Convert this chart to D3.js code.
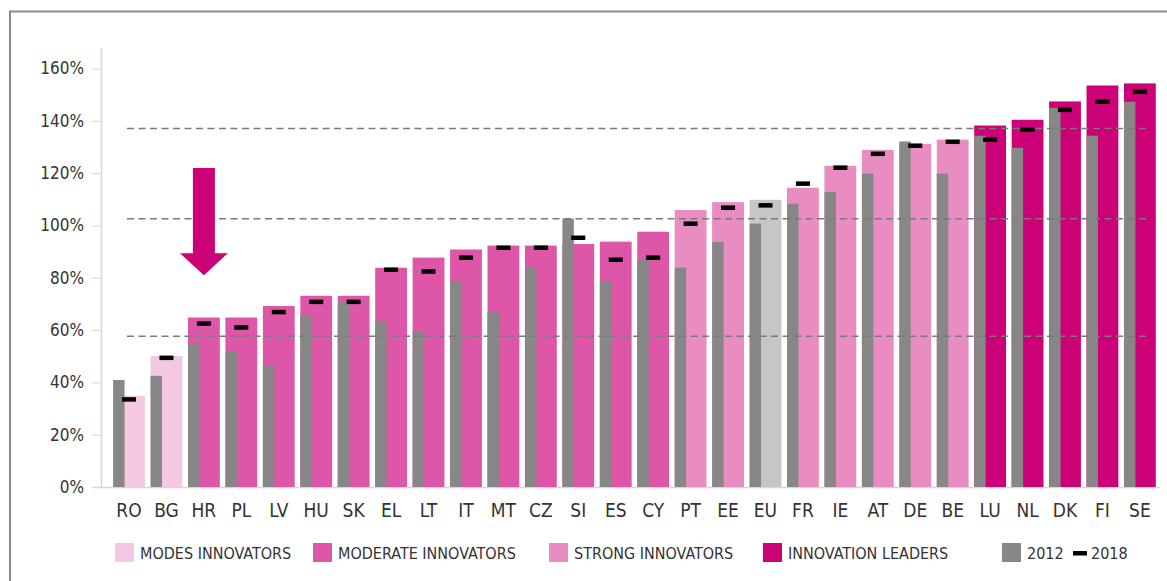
<!DOCTYPE html>
<html>
<head>
<meta charset="utf-8">
<script src="https://cdn.jsdelivr.net/npm/d3@7"></script>
<style>
  body { margin: 0; background: #fff; }
  svg { display: block; font-family: "DejaVu Sans Condensed", "Liberation Sans Narrow", sans-serif; }
</style>
</head>
<body>
<svg id="chart"></svg>
<script>
// Countries in chart order
const countries = ["RO", "BG", "HR", "PL", "LV", "HU", "SK", "EL", "LT", "IT", "MT", "CZ", "SI", "ES",
    "CY", "PT", "EE", "EU", "FR", "IE", "AT", "DE", "BE", "LU", "NL", "DK", "FI", "SE"];

// Performance group of each country
const groups = ["modest", "modest", "moderate", "moderate", "moderate", "moderate", "moderate", "moderate",
    "moderate", "moderate", "moderate", "moderate", "moderate", "moderate", "moderate", "strong", "strong",
    "eu", "strong", "strong", "strong", "strong", "strong", "leader", "leader", "leader", "leader", "leader"];

// Current performance (coloured bars), % of EU 2012
const current = [34.9, 50.1, 64.8, 64.8, 69.2, 73.1, 73.1, 83.8, 87.7, 90.8, 92.3, 92.3, 92.9, 93.8,
    97.6, 105.9, 108.9, 109.8, 114.4, 122.8, 128.9, 131.2, 132.8, 138.2, 140.4, 147.4, 153.5, 154.3];

// 2012 (grey bars)
const v2012 = [40.9, 42.5, 54.9, 51.7, 46.3, 65.4, 70.6, 63.1, 59.3, 78.4, 66.9, 83.9, 102.6, 78.4,
    86.9, 83.9, 93.7, 100.7, 108.3, 112.8, 119.8, 132.1, 119.8, 134.3, 129.7, 145.0, 134.3, 147.3];

// 2018 (black markers)
const v2018 = [33.5, 49.4, 62.5, 61.0, 66.9, 70.8, 70.8, 83.1, 82.4, 87.7, 91.5, 91.5, 95.3, 86.9,
    87.7, 100.7, 106.8, 107.7, 116.0, 122.1, 127.4, 130.5, 132.0, 132.8, 136.6, 144.2, 147.3, 151.1];

// Group thresholds (dashed lines)
const thresholds = [57.6, 102.6, 137.1];

const yTicks = [0, 20, 40, 60, 80, 100, 120, 140, 160];

const legendItems = [
    { key: "modest", label: "MODES INNOVATORS" },
    { key: "moderate", label: "MODERATE INNOVATORS" },
    { key: "strong", label: "STRONG INNOVATORS" },
    { key: "leader", label: "INNOVATION LEADERS" },
    { key: "y2012", label: "2012" },
    { key: "y2018", label: "2018" }
];
const legendX = [115, 313, 549, 763, 1002, 1073];

const data = countries.map((c, i) => ({
    country: c, group: groups[i], current: current[i], y2012: v2012[i], y2018: v2018[i]
}));

const W = 1167, H = 581;

const color = d3.scaleOrdinal()
    .domain(["modest", "moderate", "strong", "leader", "eu", "y2012"])
    .range(["#f4c8e3", "#dd56a8", "#e88cc1", "#cc0077", "#c6c6c6", "#878787"]);

const svg = d3.select("#chart")
    .attr("width", W)
    .attr("height", H);

// frame
svg.append("line")
    .attr("x1", 10).attr("x2", 10).attr("y1", 11).attr("y2", H)
    .attr("stroke", "#8a8a8a").attr("stroke-width", 2);
svg.append("line")
    .attr("x1", 9).attr("x2", W).attr("y1", 11.5).attr("y2", 11.5)
    .attr("stroke", "#8a8a8a").attr("stroke-width", 2);

const x = d3.scaleBand()
    .domain(countries)
    .range([110.3, 1158.6])
    .paddingInner(0.15)
    .paddingOuter(0.075);

const y = d3.scaleLinear()
    .domain([0, 160])
    .range([487, 68.5]);

// y axis
const yAxis = svg.append("g")
    .attr("transform", "translate(101,0)")
    .call(d3.axisLeft(y).tickValues(yTicks).tickFormat(d => d + "%").tickSize(9).tickPadding(8).tickSizeOuter(0));
yAxis.select(".domain").remove();
yAxis.selectAll(".tick line").attr("stroke", "#d6d6d6");
yAxis.selectAll(".tick text")
    .attr("font-family", "DejaVu Sans Condensed, Liberation Sans Narrow, sans-serif")
    .attr("font-size", 17)
    .attr("fill", "#333");

svg.append("line")
    .attr("x1", 101.5).attr("x2", 101.5).attr("y1", 48).attr("y2", y(0))
    .attr("stroke", "#d6d6d6").attr("stroke-width", 1.5);
svg.append("line")
    .attr("x1", 93).attr("x2", 1160).attr("y1", y(0) + 0.5).attr("y2", y(0) + 0.5)
    .attr("stroke", "#d6d6d6").attr("stroke-width", 1.5);

// coloured bars
svg.append("g")
    .selectAll("rect")
    .data(data)
    .join("rect")
    .attr("x", d => x(d.country))
    .attr("y", d => y(d.current))
    .attr("width", x.bandwidth())
    .attr("height", d => y(0) - y(d.current))
    .attr("fill", d => color(d.group));

// grey 2012 bars
const greyW = x.bandwidth() * 0.36;
svg.append("g")
    .selectAll("rect")
    .data(data)
    .join("rect")
    .attr("x", d => x(d.country))
    .attr("y", d => y(d.y2012))
    .attr("width", greyW)
    .attr("height", d => y(0) - y(d.y2012))
    .attr("fill", color("y2012"));

// thresholds
svg.append("g")
    .selectAll("line")
    .data(thresholds)
    .join("line")
    .attr("x1", 127).attr("x2", 1148)
    .attr("y1", d => y(d)).attr("y2", d => y(d))
    .attr("stroke", "#7a7a7a")
    .attr("stroke-width", 1.5)
    .attr("stroke-dasharray", "7,4.5");

// 2018 markers
svg.append("g")
    .selectAll("rect")
    .data(data)
    .join("rect")
    .attr("x", d => x(d.country) + x.bandwidth() / 2 - 7)
    .attr("y", d => y(d.y2018) - 2.2)
    .attr("width", 14)
    .attr("height", 4.5)
    .attr("fill", "#000");

// country labels
svg.append("g")
    .selectAll("text")
    .data(countries)
    .join("text")
    .attr("x", d => x(d) + x.bandwidth() / 2)
    .attr("y", 517)
    .attr("text-anchor", "middle")
    .attr("font-size", 19)
    .attr("fill", "#333")
    .text(d => d);

// arrow pointing at HR
const ax = x("HR") + x.bandwidth() / 2;
svg.append("path")
    .attr("d", `M${ax - 11},${y(122)} H${ax + 11} V${y(89.4)} H${ax + 24} L${ax},${y(81)} L${ax - 24},${y(89.4)} H${ax - 11} Z`)
    .attr("fill", "#cc0077");

// legend
const legend = svg.append("g")
    .selectAll("g")
    .data(legendItems)
    .join("g")
    .attr("transform", (d, i) => `translate(${legendX[i]},0)`);

legend.filter(d => d.key !== "y2018")
    .append("rect")
    .attr("y", 543)
    .attr("width", 19)
    .attr("height", 19)
    .attr("fill", d => color(d.key));

legend.filter(d => d.key === "y2018")
    .append("rect")
    .attr("y", 551)
    .attr("width", 14)
    .attr("height", 4.5)
    .attr("fill", "#000");

legend.append("text")
    .attr("x", d => d.key === "y2018" ? 18 : 25)
    .attr("y", 559)
    .attr("font-size", 16)
    .attr("fill", "#333")
    .text(d => d.label);
</script>
</body>
</html>
